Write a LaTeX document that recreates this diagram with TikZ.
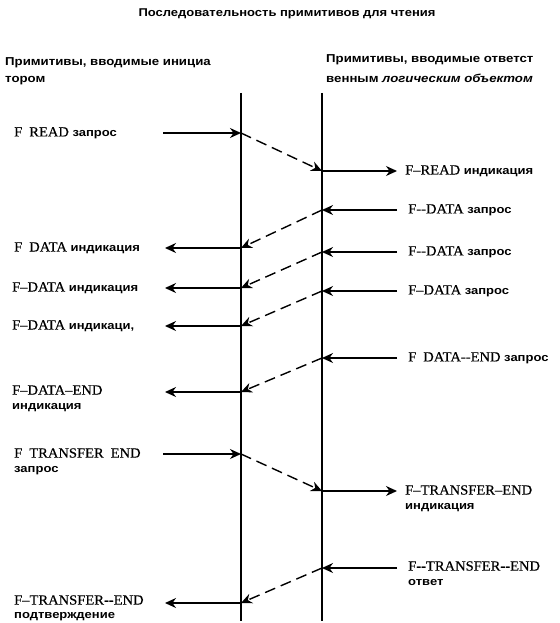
\documentclass[tikz,border=0pt]{standalone}
\usepackage{fontspec}
\setmainfont{Liberation Serif}[FakeStretch=1.04, FakeBold=0.4]
\newfontfamily\cyrsans[FakeStretch=1.15]{Liberation Sans}
\usetikzlibrary{arrows.meta}
\usetikzlibrary{positioning}
\tikzset{lbl/.style = {anchor = west, inner sep = 0, font = \fontsize{14}{16}\selectfont}}
\tikzset{msg/.style = {line width = 1.4pt, -{Stealth[length = 11pt, width = 10pt]}}}
\tikzset{pass/.style = {line width = 1.4pt, dash pattern = on 11pt off 6pt, -{Stealth[length = 11pt, width = 10pt]}}}
\tikzset{life/.style = {line width = 1.6pt}}
\newcommand{\rus}[1]{{\cyrsans\bfseries\fontsize{11.3}{13}\selectfont #1}}
\newcommand{\rushead}[1]{{\cyrsans\bfseries\fontsize{11.5}{13}\selectfont #1}}

\begin{document}
\begin{tikzpicture}[x = 1pt, y = -1pt]
      \useasboundingbox (0, 0) rectangle (559, 623);
      \node (title) at (287, 14) {\rus{Последовательность примитивов для чтения}};
      \node [lbl] (hl1) at (5, 63) {\rushead{Примитивы, вводимые инициа}};
      \node [lbl] (hl2) at (5, 81) {\rushead{тором}};
      \node [lbl] (hr1) at (326, 60) {\rushead{Примитивы, вводимые ответст}};
      \node [lbl] (hr2) at (326, 78) {\rushead{венным \itshape логическим объектом}};
      % two time lines
      \coordinate (ltop) at (241, 93);
      \coordinate (lbot) at (241, 621);
      \coordinate (rtop) at (322, 93);
      \coordinate (rbot) at (322, 621);
      \draw [life] (ltop) -- (lbot);
      \draw [life] (rtop) -- (rbot);
      % initiator to responder
      \foreach \n/\ya/\yb in {1/133/171, 6/454/491} {
        \coordinate (as\n) at (163, \ya);
        \coordinate (a\n) at (241, \ya);
        \coordinate (b\n) at (322, \yb);
        \coordinate (be\n) at (397, \yb);
        \draw [msg] (as\n) -- (a\n);
        \draw [pass] (a\n) -- (b\n);
        \draw [msg] (b\n) -- (be\n);
      }
      % responder to initiator
      \foreach \n/\yb/\ya in {2/210/248, 3/252/288, 4/291/326, 5/358/392, 7/568/603} {
        \coordinate (cs\n) at (397, \yb);
        \coordinate (c\n) at (322, \yb);
        \coordinate (d\n) at (241, \ya);
        \coordinate (de\n) at (165, \ya);
        \draw [msg] (cs\n) -- (c\n);
        \draw [pass] (c\n) -- (d\n);
        \draw [msg] (d\n) -- (de\n);
      }
      \node [lbl] (q1) at (14, 133) {F\enspace READ \rus{запрос}};
      \node [lbl] (r1) at (405, 171) {F--READ \rus{индикация}};
      \node [lbl] (q2) at (408, 210) {F-{}-DATA \rus{запрос}};
      \node [lbl] (r2) at (14, 248) {F\enspace DATA \rus{индикация}};
      \node [lbl] (q3) at (408, 252) {F-{}-DATA \rus{запрос}};
      \node [lbl] (r3) at (12, 288) {F--DATA \rus{индикация}};
      \node [lbl] (q4) at (408, 291) {F--DATA \rus{запрос}};
      \node [lbl] (r4) at (12, 326) {F--DATA \rus{индикаци,}};
      \node [lbl] (q5) at (408, 358) {F\enspace DATA-{}-END \rus{запрос}};
      \node [lbl] (r5) at (12, 390) {F--DATA--END};
      \node [lbl] (r5b) at (12, 408) {\rus{индикация}};
      \node [lbl] (q6) at (14, 453) {F\enspace TRANSFER\enspace END};
      \node [lbl] (q6b) at (14, 471) {\rus{запрос}};
      \node [lbl] (r6) at (405, 490) {F--TRANSFER--END};
      \node [lbl] (r6b) at (405, 508) {\rus{индикация}};
      \node [lbl] (q7) at (408, 566) {F-{}-TRANSFER-{}-END};
      \node [lbl] (q7b) at (408, 583) {\rus{ответ}};
      \node [lbl] (r7) at (14, 600) {F--TRANSFER-{}-END};
      \node [lbl] (r7b) at (14, 617) {\rus{подтверждение}};
\end{tikzpicture}
\end{document}
